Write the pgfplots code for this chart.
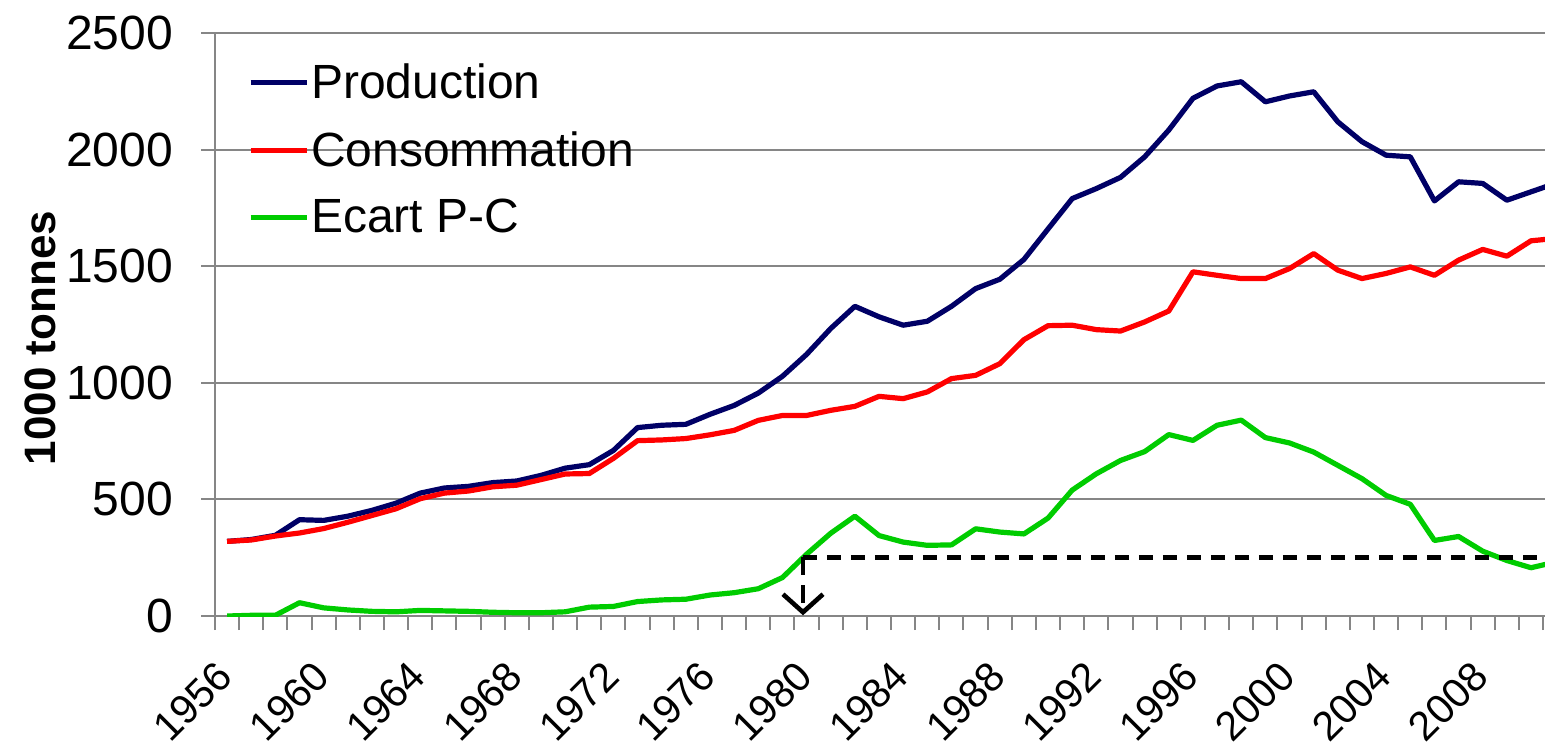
\documentclass[border=0pt]{standalone}
\usepackage{pgfplots}
\pgfplotsset{compat=1.18}
\usepackage{pgfplotstable}
\usepackage{fontspec}
\setmainfont{Liberation Sans}
\usetikzlibrary{arrows.meta}
\definecolor{prodblue}{RGB}{0,0,102}
\definecolor{consred}{RGB}{255,0,0}
\definecolor{ecartgreen}{RGB}{0,204,0}
\definecolor{gridgray}{RGB}{134,134,134}

\pgfplotstableread{
year prod cons ecart
1956 320 320 0
1957 328 326 3
1958 346 343 3
1959 413 356 57
1960 410 375 35
1961 428 402 26
1962 453 431 20
1963 484 460 18
1964 527 503 24
1965 549 527 22
1966 556 536 20
1967 572 554 16
1968 579 561 14
1969 603 585 14
1970 634 609 18
1971 649 611 38
1972 710 676 41
1973 808 752 62
1974 818 755 69
1975 822 761 72
1976 865 777 90
1977 903 796 100
1978 956 839 117
1979 1028 860 165
1980 1122 860 265
1981 1233 882 355
1982 1328 899 428
1983 1283 942 345
1984 1247 932 317
1985 1264 961 303
1986 1328 1018 305
1987 1404 1032 374
1988 1444 1082 360
1989 1529 1185 352
1990 1660 1245 420
1991 1790 1247 540
1992 1833 1228 610
1993 1881 1222 667
1994 1969 1261 705
1995 2084 1308 778
1996 2220 1476 753
1997 2273 1461 818
1998 2291 1447 840
1999 2205 1447 765
2000 2230 1490 742
2001 2248 1554 703
2002 2119 1483 646
2003 2034 1447 589
2004 1976 1469 517
2005 1969 1497 479
2006 1780 1461 324
2007 1862 1526 341
2008 1855 1572 278
2009 1783 1543 238
2010 1819 1609 207
2011 1855 1619 231
}\datatable

\begin{document}
\begin{tikzpicture}
\useasboundingbox (0,0) rectangle (772.5pt,376pt);
\begin{axis}[
  at={(107.5pt,68pt)}, anchor=south west,
  scale only axis, width=665pt, height=291.5pt,
  xmin=1955.5, xmax=2010.58, ymin=0, ymax=2500,
  axis lines*=left, tick pos=left,
  axis line style={gridgray, line width=1pt},
  ytick={0,500,...,2500},
  ymajorgrids, grid style={gridgray, line width=1pt},
  xtick={1955.5,1956.5,...,2010.5},
  xticklabels={,1956,,,,1960,,,,1964,,,,1968,,,,1972,,,,1976,,,,1980,,,,1984,,,,1988,,,,1992,,,,1996,,,,2000,,,,2004,,,,2008,,,},
  tick align=outside, major tick length=7pt,
  tick style={gridgray, line width=1pt},
  /pgf/number format/1000 sep={},
  /pgf/number format/assume math mode=true,
  tick label style={font=\fontsize{24}{28}\selectfont},
  xticklabel style={font=\fontsize{20.5}{24}\selectfont, inner sep=0pt, xshift=-2pt, yshift=-24.5pt, rotate=45, anchor=base east},
  yticklabel style={xshift=-10.5pt},
  ylabel={\bfseries 1000 tonnes},
  ylabel style={font=\fontsize{22}{26}\selectfont, at={(rel axis cs:-0.1316,0.477)}, anchor=center},
  legend style={at={(0.02,0.958)}, anchor=north west, draw=none, fill=none,
    font=\fontsize{24}{28}\selectfont, row sep=13pt,
    nodes={inner sep=1pt}},
  legend cell align=left,
  legend image code/.code={\draw[#1] (0pt,0pt) -- (28pt,0pt);},
  every axis plot/.append style={line width=2.6pt, line join=round},
  clip=true,
]
\addplot[prodblue, no markers] table[x=year, y=prod] {\datatable};
\addlegendentry{Production}
\addplot[consred, no markers] table[x=year, y=cons] {\datatable};
\addlegendentry{Consommation}
\addplot[ecartgreen, no markers] table[x=year, y=ecart] {\datatable};
\addlegendentry{Ecart P-C}
\addplot[black, line width=2.3pt, dash pattern=on 7pt off 5pt, forget plot] coordinates {(1979.85,251) (2012,251)};
\addplot[black, line width=2.3pt, dash pattern=on 9pt off 5pt, -{Straight Barb[length=9pt,width=20pt,line width=2.3pt]}, forget plot] coordinates {(1979.85,251) (1979.85,3)};
\end{axis}
\end{tikzpicture}
\end{document}
